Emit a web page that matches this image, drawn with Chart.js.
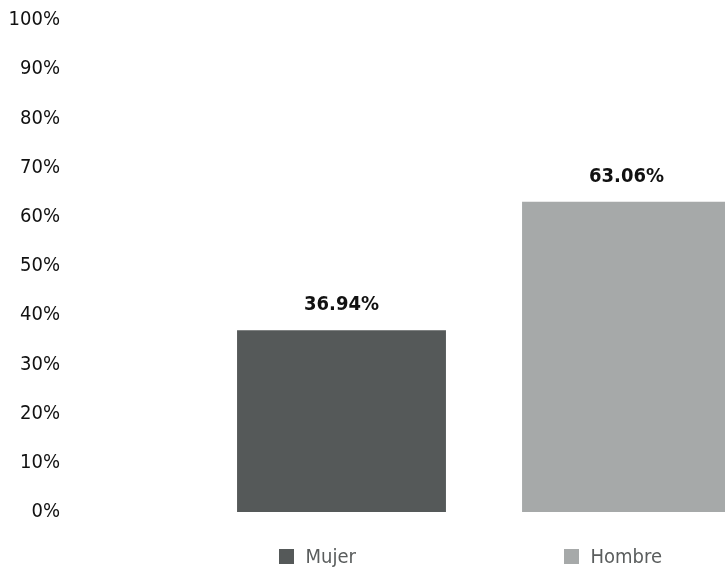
<!DOCTYPE html>
<html>
<head>
    <title>Mujer / Hombre</title>
    <script src="https://cdn.jsdelivr.net/npm/chart.js@4/dist/chart.umd.min.js"></script>
    <style>
        body { margin: 0; background: #fff; overflow: hidden; }
        #wrap { position: relative; width: 725px; height: 570px; overflow: hidden; }
        #legend { position: absolute; left: 0; top: 0; width: 725px; height: 570px; pointer-events: none; }
        .item { position: absolute; display: flex; align-items: center; height: 26px;
                font-family: "DejaVu Sans Condensed", sans-serif; font-size: 20px; color: #5a5d5d; white-space: nowrap; }
        .box { width: 15px; height: 15px; margin-right: 12px; }
    </style>
</head>
<body>
    <div id="wrap">
        <canvas id="myChart" width="772" height="570"></canvas>
        <div id="legend"></div>
    </div>
    <script>
        // data
        var categories = ['Mujer', 'Hombre'];
        var values = [36.94, 63.06];
        var barColors = ['#555959', '#a6a9a9'];
        var yTicks = [0, 10, 20, 30, 40, 50, 60, 70, 80, 90, 100];

        var fontFam = '"DejaVu Sans Condensed", sans-serif';

        // draws the value above each bar
        var valueLabels = {
            id: 'valueLabels',
            afterDatasetsDraw: function(chart) {
                var ctx = chart.ctx;
                var meta = chart.getDatasetMeta(0);
                ctx.save();
                ctx.font = 'bold 20px ' + fontFam;
                ctx.fillStyle = '#111';
                ctx.textAlign = 'center';
                ctx.textBaseline = 'middle';
                meta.data.forEach(function(bar, i) {
                    ctx.fillText(values[i].toFixed(2) + '%', bar.x, bar.y - 25);
                });
                ctx.restore();
            }
        };

        // html legend, one item under each bar
        var htmlLegend = {
            id: 'htmlLegend',
            afterUpdate: function(chart) {
                var box = document.getElementById('legend');
                box.innerHTML = '';
                categories.forEach(function(c, i) {
                    var item = document.createElement('div');
                    item.className = 'item';
                    item.style.left = (chart.scales.x.getPixelForValue(i) - 63) + 'px';
                    item.style.top = '543px';
                    var sq = document.createElement('span');
                    sq.className = 'box';
                    sq.style.background = barColors[i];
                    var t = document.createElement('span');
                    t.textContent = c;
                    item.appendChild(sq);
                    item.appendChild(t);
                    box.appendChild(item);
                });
            }
        };

        var ctx = document.getElementById('myChart').getContext('2d');
        var myChart = new Chart(ctx, {
            type: 'bar',
            data: {
                labels: categories,
                datasets: [{
                    data: values,
                    backgroundColor: barColors,
                    categoryPercentage: 1,
                    barPercentage: 0.733
                }]
            },
            options: {
                responsive: false,
                animation: false,
                layout: { padding: { top: 20, bottom: 58, left: 0, right: 3 } },
                plugins: {
                    legend: { display: false },
                    tooltip: { enabled: false }
                },
                scales: {
                    x: { display: false },
                    y: {
                        min: 0,
                        max: 100,
                        afterBuildTicks: function(axis) {
                            axis.ticks = yTicks.map(function(v) { return { value: v }; });
                        },
                        afterFit: function(axis) {
                            axis.width = 199;
                            axis.paddingTop = 0;
                            axis.paddingBottom = 0;
                        },
                        grid: { display: false, drawTicks: false },
                        border: { display: false },
                        ticks: {
                            padding: 139,
                            color: '#111',
                            font: { family: fontFam, size: 20 },
                            callback: function(v) { return v + '%'; }
                        }
                    }
                }
            },
            plugins: [valueLabels, htmlLegend]
        });
    </script>
</body>
</html>
